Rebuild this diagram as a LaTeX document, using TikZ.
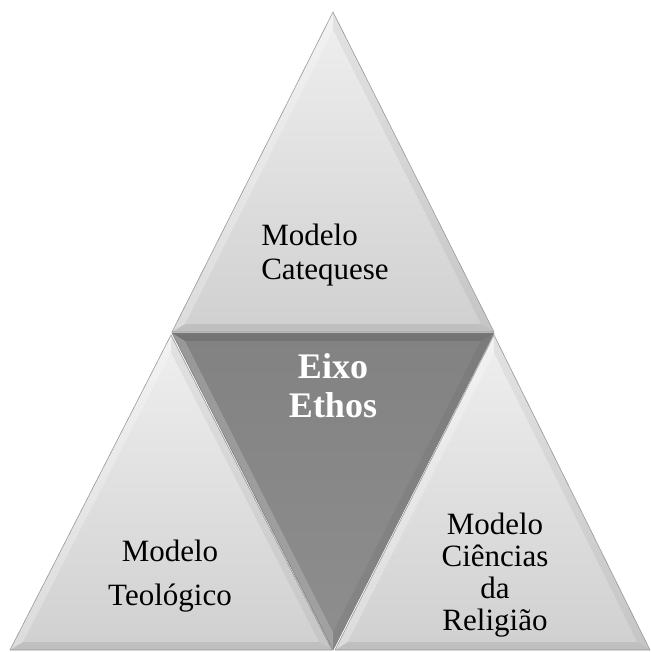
\documentclass[tikz,border=0pt]{standalone}
\usepackage{fontspec}
\setmainfont{Liberation Serif}
\usetikzlibrary{calc}
\definecolor{tritop}{HTML}{EFEFEF}
\definecolor{tribot}{HTML}{D0D0D0}
\definecolor{midtop}{HTML}{828282}
\definecolor{midbot}{HTML}{8E8E8E}
\tikzset{
  lbl/.style={font=\fontsize{31}{34}\selectfont, text=black, inner sep=0pt},
  hub/.style={font=\fontsize{36}{39}\selectfont\bfseries, text=white, inner sep=0pt, align=center},
  edge/.style={draw=black!40, line width=0.6pt, line join=miter},
}
% #1 A, #2 B, #3 C, #4 incenter, #5 top color, #6 bottom color
\newcommand\bevtri[6]{%
  \shade[top color=#5, bottom color=#6] (#1) -- (#2) -- (#3) -- cycle;
  \coordinate (#1i) at ($(#4)!0.92!(#1)$);
  \coordinate (#2i) at ($(#4)!0.92!(#2)$);
  \coordinate (#3i) at ($(#4)!0.92!(#3)$);
  \fill[white, opacity=0.25] (#1) -- (#2) -- (#2i) -- (#1i) -- cycle;
  \fill[black, opacity=0.05] (#1) -- (#3) -- (#3i) -- (#1i) -- cycle;
  \fill[black, opacity=0.08] (#2) -- (#3) -- (#3i) -- (#2i) -- cycle;
  \draw[edge] (#1) -- (#2) -- (#3) -- cycle;
}
\begin{document}
\begin{tikzpicture}[x=1pt, y=-1pt]
\useasboundingbox (0,0) rectangle (650,652);
\fill[white] (0,0) rectangle (650,652);
% top triangle
\coordinate (tA) at (333,12);
\coordinate (tB) at (172,332);
\coordinate (tC) at (494,332);
\coordinate (tI) at (333,233);
\bevtri{tA}{tB}{tC}{tI}{tritop}{tribot}
% bottom-left triangle
\coordinate (lA) at (171,335);
\coordinate (lB) at (10,650);
\coordinate (lC) at (332,650);
\coordinate (lI) at (171,551);
\bevtri{lA}{lB}{lC}{lI}{tritop}{tribot}
% bottom-right triangle
\coordinate (rA) at (494,335);
\coordinate (rB) at (335,650);
\coordinate (rC) at (650,650);
\coordinate (rI) at (493,553);
\bevtri{rA}{rB}{rC}{rI}{tritop}{tribot}
% centre inverted triangle
\coordinate (cA) at (333,650);
\coordinate (cB) at (172,333);
\coordinate (cC) at (494,333);
\coordinate (cI) at (333,432);
\shade[top color=midtop, bottom color=midbot] (cB) -- (cC) -- (cA) -- cycle;
\coordinate (cAi) at ($(cI)!0.92!(cA)$);
\coordinate (cBi) at ($(cI)!0.92!(cB)$);
\coordinate (cCi) at ($(cI)!0.92!(cC)$);
\fill[white, opacity=0.18] (cB) -- (cA) -- (cAi) -- (cBi) -- cycle;
\fill[black, opacity=0.10] (cB) -- (cC) -- (cCi) -- (cBi) -- cycle;
\fill[black, opacity=0.05] (cC) -- (cA) -- (cAi) -- (cCi) -- cycle;
\draw[edge, draw=black!50] (cB) -- (cC) -- (cA) -- cycle;
% texts
\node[lbl, align=left] (tcat) at (325,255) {Modelo\\Catequese};
\node[hub] (eixo) at (333,386) {Eixo\\Ethos};
\node[lbl, align=center, font=\fontsize{31}{44}\selectfont] (teo) at (170,576) {Modelo\\Teológico};
\node[lbl, align=center, font=\fontsize{31}{32}\selectfont] (cien) at (495,575) {Modelo\\Ciências\\da\\Religião};
\end{tikzpicture}
\end{document}
